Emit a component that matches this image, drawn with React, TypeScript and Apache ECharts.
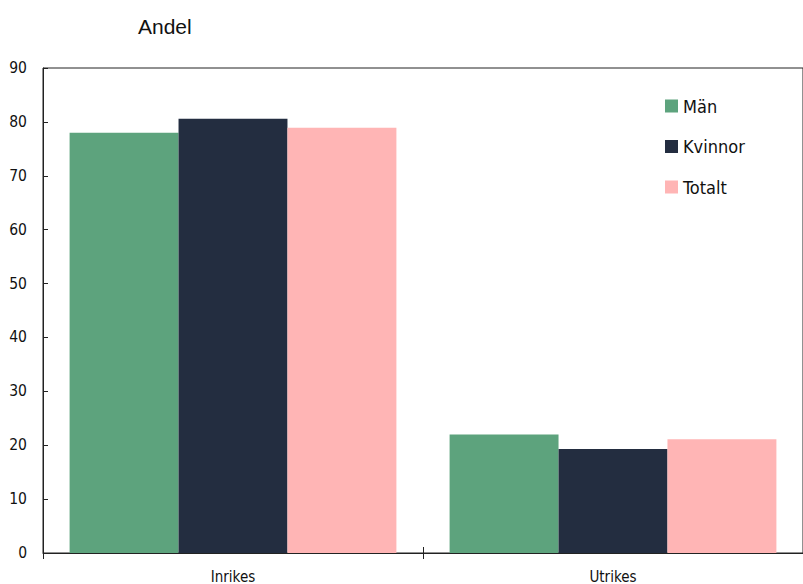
import React, { useEffect, useRef } from "react";
import * as echarts from "echarts";

const categories = ["Inrikes", "Utrikes"];
const man = [78.0, 22.0];
const kvinnor = [80.6, 19.3];
const totalt = [78.9, 21.1];
const seriesNames = ["Män", "Kvinnor", "Totalt"];
const colors = ["#5da37d", "#232d40", "#ffb5b5"];

const condensed = "'Liberation Sans Narrow', 'DejaVu Sans Condensed', 'Roboto', sans-serif";

export default function App() {
  const ref = useRef<HTMLDivElement>(null);
  useEffect(() => {
    if (!ref.current) return;
    const chart = echarts.init(ref.current, undefined, { renderer: "svg" });
    const data = [man, kvinnor, totalt];
    chart.setOption({
      animation: false,
      title: {
        text: "Andel",
        left: 133,
        top: 11,
        textStyle: { fontFamily: "'Liberation Sans', Arial, sans-serif", fontWeight: "normal", fontSize: 21, color: "#111" },
      },
      legend: {
        orient: "vertical",
        left: 660,
        top: 92,
        itemWidth: 13,
        itemHeight: 13,
        itemGap: 22.5,
        icon: "rect",
        textStyle: { fontFamily: condensed, fontSize: 18, color: "#111" },
        data: seriesNames,
      },
      grid: { left: 43, top: 68, height: 486, width: 768, show: true, borderColor: "#222", borderWidth: 1, containLabel: false },
      xAxis: [
        {
          type: "category",
          data: categories,
          axisLine: { lineStyle: { color: "#222" } },
          axisTick: { show: true, length: 6, lineStyle: { color: "#222" } },
          axisLabel: { fontFamily: condensed, fontSize: 15, color: "#111", margin: 16 },
        },
        {
          type: "category",
          data: categories,
          position: "bottom",
          axisLine: { show: false },
          axisTick: { show: true, inside: true, length: 6, lineStyle: { color: "#222" } },
          axisLabel: { show: false },
        },
      ],
      yAxis: {
        type: "value",
        min: 0,
        max: 90,
        interval: 10,
        axisLine: { show: true, lineStyle: { color: "#222" } },
        axisTick: { show: true, inside: true, length: 5, lineStyle: { color: "#222" } },
        splitLine: { show: false },
        axisLabel: { fontFamily: condensed, fontSize: 15.5, color: "#111", margin: 16 },
      },
      series: seriesNames.map((name, i) => ({
        name,
        type: "bar",
        data: data[i],
        barGap: "0%",
        barCategoryGap: "14%",
        itemStyle: { color: colors[i] },
      })),
    });
    return () => chart.dispose();
  }, []);
  return <div ref={ref} style={{ width: 803, height: 584, position: "absolute", left: 0, top: 0 }} />;
}
